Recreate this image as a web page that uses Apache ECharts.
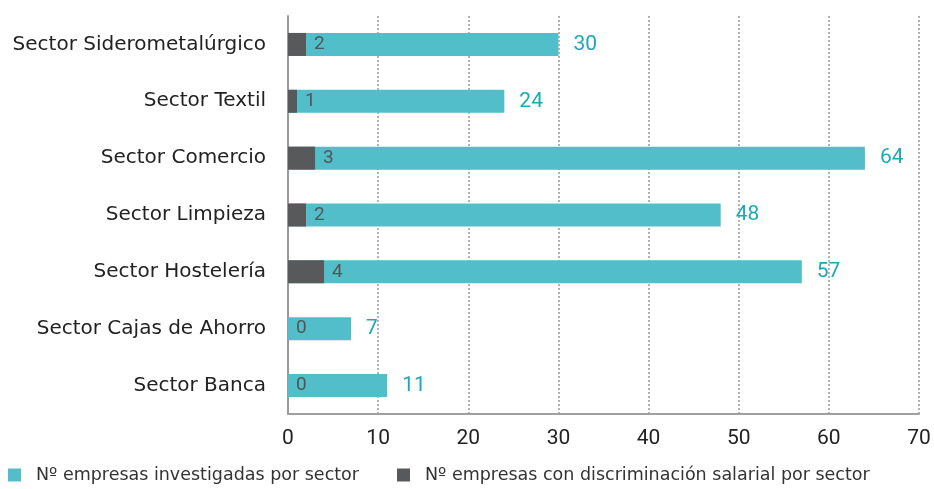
<!DOCTYPE html>
<html>
<head>
<meta charset="utf-8">
<style>
  html, body { margin: 0; padding: 0; background: #fff; }
  #chart { width: 934px; height: 489px; }
</style>
<script src="https://cdn.jsdelivr.net/npm/echarts@6/dist/echarts.min.js"></script>
</head>
<body>
<div id="chart"></div>
<script>
// Sectors, top to bottom
const sectors = [
  'Sector Siderometalúrgico',
  'Sector Textil',
  'Sector Comercio',
  'Sector Limpieza',
  'Sector Hostelería',
  'Sector Cajas de Ahorro',
  'Sector Banca'
];
// Companies investigated per sector
const investigated = [30, 24, 64, 48, 57, 7, 11];
// Companies with pay discrimination per sector
const discrimination = [2, 1, 3, 2, 4, 0, 0];
// Value axis ticks
const xTicks = [0, 10, 20, 30, 40, 50, 60, 70];

const seriesNames = [
  'Nº empresas investigadas por sector',
  'Nº empresas con discriminación salarial por sector'
];

const TEXT_FONT = '"DejaVu Sans", sans-serif';
const NUM_FONT = 'Roboto, "Liberation Sans", sans-serif';
const TEAL = '#52bec9';
const DARK = '#58595b';

const chart = echarts.init(document.getElementById('chart'));
chart.setOption({
  animation: false,
  textStyle: { fontFamily: TEXT_FONT },
  grid: { left: 288, right: 15, top: 16, bottom: 75, containLabel: false },
  legend: {
    bottom: 0,
    left: 3,
    itemWidth: 13,
    itemHeight: 13,
    itemGap: 38,
    icon: 'rect',
    textStyle: { fontSize: 17.5, color: '#333', fontFamily: TEXT_FONT, padding: [0, 0, 0, 10] },
    data: seriesNames
  },
  xAxis: {
    type: 'value',
    min: xTicks[0],
    max: xTicks[xTicks.length - 1],
    interval: xTicks[1] - xTicks[0],
    axisLine: { show: true, lineStyle: { color: '#a0a0a0', width: 2 } },
    axisTick: { show: false },
    axisLabel: { fontSize: 21, color: '#222', margin: 14, fontFamily: NUM_FONT },
    splitLine: { show: true, lineStyle: { color: '#999', type: [2, 2], width: 1.5 } }
  },
  yAxis: {
    type: 'category',
    inverse: true,
    data: sectors,
    axisLine: { show: true, lineStyle: { color: '#999', width: 2 } },
    axisTick: { show: false },
    axisLabel: { fontSize: 20, color: '#222', margin: 22, fontFamily: TEXT_FONT }
  },
  series: [
    {
      name: seriesNames[0],
      type: 'bar',
      data: investigated,
      barWidth: 23,
      barGap: '-100%',
      itemStyle: { color: TEAL },
      label: {
        show: true,
        position: 'right',
        distance: 15,
        fontSize: 21,
        color: '#1ba9b8',
        fontFamily: NUM_FONT
      }
    },
    {
      name: seriesNames[1],
      type: 'bar',
      data: discrimination,
      barWidth: 23,
      barGap: '-100%',
      itemStyle: { color: DARK },
      label: {
        show: true,
        position: 'right',
        distance: 8,
        fontSize: 19,
        color: '#555',
        fontFamily: NUM_FONT
      }
    }
  ]
});
</script>
</body>
</html>
